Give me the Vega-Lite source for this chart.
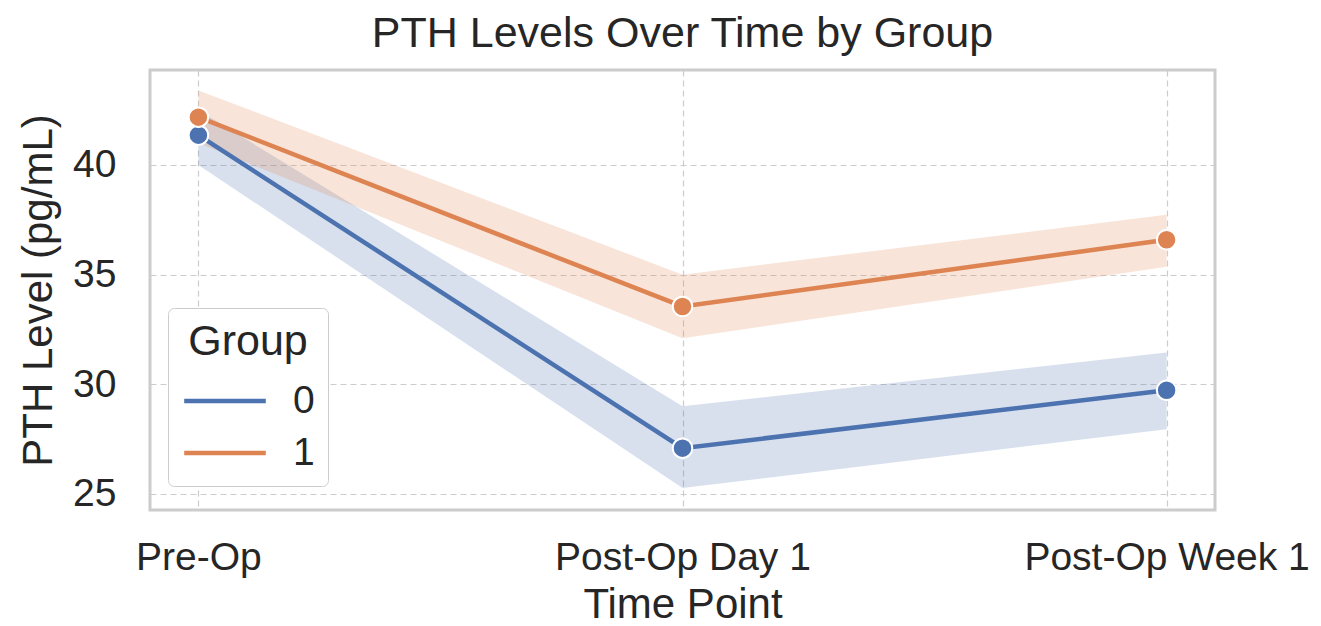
{
  "$schema": "https://vega.github.io/schema/vega-lite/v6.json",
  "width": 1065,
  "height": 440,
  "autosize": {"type": "none"},
  "padding": {"left": 150, "top": 70, "right": 106, "bottom": 116},
  "background": "white",
  "config": {
    "font": "Liberation Sans",
    "view": {"stroke": "#cccccc", "strokeWidth": 3},
    "axis": {
      "grid": true,
      "gridColor": "#cccccc",
      "gridDash": [6, 4],
      "gridWidth": 1.2,
      "domain": false,
      "ticks": false,
      "labelFontSize": 39,
      "labelColor": "#262626",
      "titleFontSize": 42,
      "titleFontWeight": "normal",
      "titleColor": "#262626",
      "labelLimit": 0,
      "labelOverlap": false
    }
  },
  "title": {
    "text": "PTH Levels Over Time by Group",
    "fontSize": 43,
    "fontWeight": "normal",
    "color": "#262626",
    "anchor": "middle",
    "offset": 14
  },
  "data": {
    "values": [
      {"time": "Pre-Op", "group": "0", "mean": 41.36, "lo": 40.0, "hi": 42.5},
      {"time": "Post-Op Day 1", "group": "0", "mean": 27.09, "lo": 25.27, "hi": 29.0},
      {"time": "Post-Op Week 1", "group": "0", "mean": 29.73, "lo": 27.95, "hi": 31.45},
      {"time": "Pre-Op", "group": "1", "mean": 42.18, "lo": 41.0, "hi": 43.4},
      {"time": "Post-Op Day 1", "group": "1", "mean": 33.55, "lo": 32.1, "hi": 35.0},
      {"time": "Post-Op Week 1", "group": "1", "mean": 36.59, "lo": 35.36, "hi": 37.73}
    ]
  },
  "encoding": {
    "x": {
      "field": "time",
      "type": "nominal",
      "sort": ["Pre-Op", "Post-Op Day 1", "Post-Op Week 1"],
      "scale": {"type": "point", "padding": 0.1},
      "axis": {"title": "Time Point", "labelAngle": 0, "labelPadding": 28, "titlePadding": 7}
    },
    "color": {
      "field": "group",
      "type": "nominal",
      "scale": {"domain": ["0", "1"], "range": ["#4C72B0", "#DD8452"]},
      "legend": {
        "title": "Group",
        "orient": "none",
        "legendX": 18,
        "legendY": 238,
        "titleFontSize": 43,
        "titleFontWeight": "normal",
        "titleColor": "#262626",
        "titleAnchor": "middle",
        "titlePadding": 9,
        "labelFontSize": 39,
        "labelColor": "#262626",
        "symbolType": "M-1.6,0H1.6",
        "symbolSize": 2601,
        "symbolStrokeWidth": 4.5,
        "symbolOpacity": 1,
        "symbolOffset": 16,
        "rowPadding": 4,
        "labelOffset": 40,
        "padding": 13,
        "strokeColor": "#cccccc",
        "cornerRadius": 6,
        "fillColor": "white"
      }
    }
  },
  "layer": [
    {
      "mark": {"type": "area", "opacity": 0.22},
      "encoding": {
        "y": {"field": "lo", "type": "quantitative"},
        "y2": {"field": "hi"}
      }
    },
    {
      "mark": {"type": "line", "strokeWidth": 4.5},
      "encoding": {
        "y": {
          "field": "mean",
          "type": "quantitative",
          "scale": {"domain": [24.27, 44.33], "nice": false, "zero": false},
          "axis": {"title": "PTH Level (pg/mL)", "values": [25, 30, 35, 40], "labelPadding": 34, "titlePadding": 12}
        }
      }
    },
    {
      "mark": {"type": "circle", "size": 380, "opacity": 1, "stroke": "white", "strokeWidth": 2},
      "encoding": {
        "y": {"field": "mean", "type": "quantitative"}
      }
    }
  ]
}
